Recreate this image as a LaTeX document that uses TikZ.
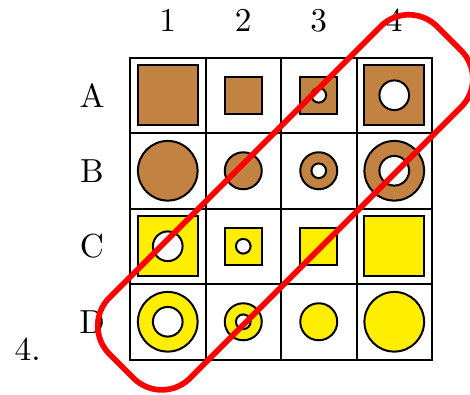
\documentclass[tikz,border=0pt]{standalone}
\definecolor{brn}{RGB}{193,130,66}
\definecolor{ylw}{RGB}{255,238,0}
\begin{document}
\begin{tikzpicture}[x=0.3pt,y=-0.3pt,
  cell/.style={rectangle,draw=black,line width=0.6pt,minimum size=22.65pt,inner sep=0pt,outer sep=0pt},
  sqL/.style={rectangle,draw=black,line width=0.6pt,fill=#1,minimum size=17.9pt,inner sep=0pt},
  sqS/.style={rectangle,draw=black,line width=0.6pt,fill=#1,minimum size=11.1pt,inner sep=0pt},
  ciL/.style={circle,draw=black,line width=0.6pt,fill=#1,minimum size=17.9pt,inner sep=0pt},
  ciS/.style={circle,draw=black,line width=0.6pt,fill=#1,minimum size=11.1pt,inner sep=0pt},
  holeL/.style={circle,draw=black,line width=0.6pt,fill=white,minimum size=8.9pt,inner sep=0pt},
  holeS/.style={circle,draw=black,line width=0.6pt,fill=white,minimum size=4.4pt,inner sep=0pt},
  lbl/.style={inner sep=0pt,font=\normalsize},
  loopbox/.style={rectangle,draw=red,line width=1.7pt,rounded corners=12pt,minimum width=139pt,minimum height=34.2pt,inner sep=0pt,rotate=45}
  ]
\useasboundingbox (0,0) rectangle (470,394);
% grid cells
\foreach \r/\ry in {A/95.25,B/170.75,C/246.25,D/321.75}{
  \foreach \c/\cx in {1/167.75,2/243.25,3/318.75,4/394.25}{
    \node[cell] (\r\c) at (\cx,\ry) {};
  }
  \node[lbl] (row\r) at (92,\ry) {\r};
}
\foreach \c/\cx in {1/167.75,2/243.25,3/318.75,4/394.25}{
  \node[lbl] (col\c) at (\cx,20.5) {\c};
}
\node[lbl,anchor=base west] (num) at (14,360) {4.};
% row A
\node[sqL=brn] (a1s) at (A1) {};
\node[sqS=brn] (a2s) at (A2) {};
\node[sqS=brn] (a3s) at (A3) {};
\node[holeS] (a3h) at (A3) {};
\node[sqL=brn] (a4s) at (A4) {};
\node[holeL] (a4h) at (A4) {};
% row B
\node[ciL=brn] (b1s) at (B1) {};
\node[ciS=brn] (b2s) at (B2) {};
\node[ciS=brn] (b3s) at (B3) {};
\node[holeS] (b3h) at (B3) {};
\node[ciL=brn] (b4s) at (B4) {};
\node[holeL] (b4h) at (B4) {};
% row C
\node[sqL=ylw] (c1s) at (C1) {};
\node[holeL] (c1h) at (C1) {};
\node[sqS=ylw] (c2s) at (C2) {};
\node[holeS] (c2h) at (C2) {};
\node[sqS=ylw] (c3s) at (C3) {};
\node[sqL=ylw] (c4s) at (C4) {};
% row D
\node[ciL=ylw] (d1s) at (D1) {};
\node[holeL] (d1h) at (D1) {};
\node[ciS=ylw] (d2s) at (D2) {};
\node[holeS] (d2h) at (D2) {};
\node[ciS=ylw] (d3s) at (D3) {};
\node[ciL=ylw] (d4s) at (D4) {};
% red loop
\node[loopbox] (loop) at (285.3,202.3) {};
\end{tikzpicture}
\end{document}
